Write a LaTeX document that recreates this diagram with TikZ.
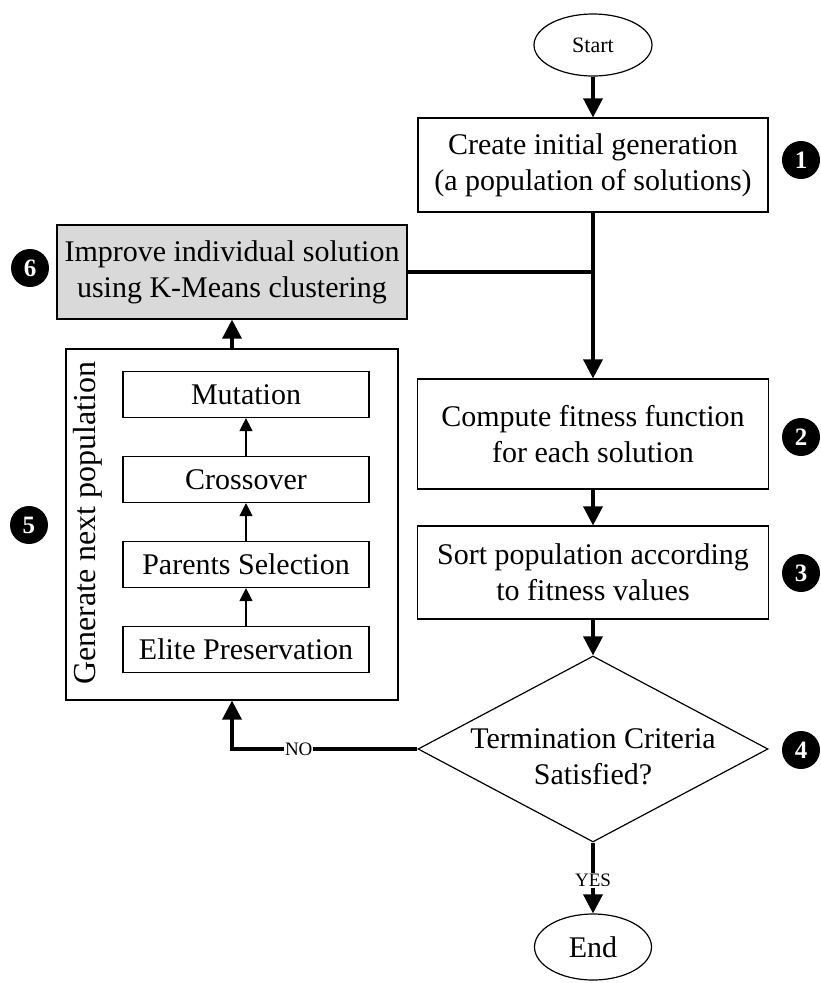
\documentclass[tikz,border=0pt]{standalone}
\usepackage{fontspec}
\setmainfont{Liberation Serif}
\usetikzlibrary{arrows.meta,shapes.geometric}
\begin{document}
\begin{tikzpicture}[x=1pt,y=-1pt,
  txt/.style={font=\fontsize{30}{36}\selectfont, align=center},
  stepbox/.style={draw, line width=1.2pt, inner sep=0pt, txt},
  subbox/.style={draw, line width=1.2pt, inner sep=0pt, minimum width=246, minimum height=46, txt},
  term/.style={draw, ellipse, line width=1.2pt, inner sep=0pt},
  num/.style={circle, fill=black, text=white, inner sep=0pt, minimum size=38,
              font=\fontsize{25}{25}\selectfont\bfseries},
  flow/.style={line width=3.5pt, -{Triangle[length=19pt,width=19pt]}},
  flowline/.style={line width=3.5pt},
  thin/.style={line width=1.2pt, -{Triangle[length=13pt,width=13pt]}},
  tag/.style={fill=white, inner sep=1pt, font=\fontsize{19}{19}\selectfont}
]
\useasboundingbox (0,0) rectangle (821,983);

% main column
\node[term, minimum width=118, minimum height=62, font=\fontsize{22}{22}\selectfont] (start) at (593,45) {Start};
\node[stepbox, minimum width=350, minimum height=94] (create) at (593,165)
  {Create initial generation\\(a population of solutions)};
\node[stepbox, minimum width=351, minimum height=110] (fitness) at (593,434)
  {Compute fitness function\\for each solution};
\node[stepbox, minimum width=351, minimum height=93] (sort) at (593,572.5)
  {Sort population according\\to fitness values};
\node[draw, diamond, line width=1.2pt, inner sep=0pt, aspect=1.88,
      minimum width=350, minimum height=186] (check) at (593,749) {};
\node[txt] (checktext) at (593,757) {Termination Criteria\\Satisfied?};
\node[term, minimum width=117, minimum height=66, txt] (end) at (593,947) {End};

% improvement step
\node[stepbox, fill=black!15, minimum width=350, minimum height=94] (improve) at (232,272)
  {Improve individual solution\\using K-Means clustering};

% next-population block
\node[draw, line width=1.2pt, minimum width=332, minimum height=351, inner sep=0pt] (gen) at (232,524.5) {};
\node[rotate=90, font=\fontsize{32}{32}\selectfont] (genlabel) at (88,523) {Generate next population};
\node[subbox] (mut) at (246,394.5) {Mutation};
\node[subbox] (cross) at (246,479.5) {Crossover};
\node[subbox] (parents) at (246,564.5) {Parents Selection};
\node[subbox] (elite) at (246,649.5) {Elite Preservation};

% step numbers
\node[num] (n1) at (801,160) {1};
\node[num] (n2) at (801,437) {2};
\node[num] (n3) at (801,573) {3};
\node[num] (n4) at (801,750) {4};
\node[num] (n5) at (29,525) {5};
\node[num] (n6) at (30,268) {6};

% connectors
\draw[flow] (start) -- (create);
\draw[flow] (create) -- (fitness);
\draw[flowline] (improve.east) -- (improve.east -| create.south);
\draw[flow] (fitness) -- (sort);
\draw[flow] (sort) -- (check.north);
\draw[flow] (check.south) -- node[tag, pos=0.53] (yes) {YES} (end.north);
\draw[flow] (check.west) -| node[tag, pos=0.32] (no) {NO} (gen.south);
\draw[flow] (gen.north) -- (improve.south);
\draw[thin] (elite) -- (parents);
\draw[thin] (parents) -- (cross);
\draw[thin] (cross) -- (mut);
\end{tikzpicture}
\end{document}
